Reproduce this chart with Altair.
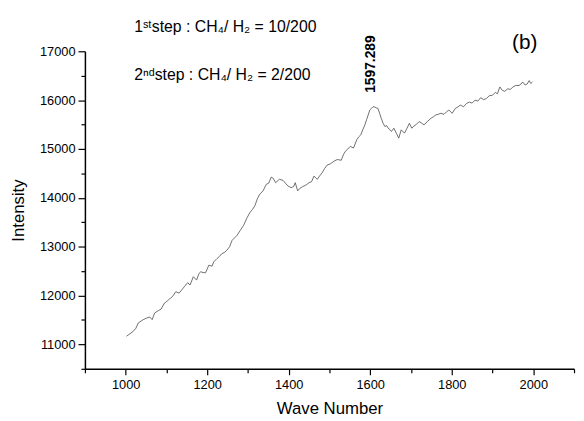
import altair as alt
import pandas as pd

wave = [1002, 1010, 1019, 1025, 1031, 1043, 1052, 1059, 1065, 1071,
        1080, 1087, 1095, 1101, 1107, 1115, 1123, 1131, 1138, 1144,
        1152, 1158, 1166, 1174, 1180, 1184, 1190, 1196, 1204, 1212,
        1216, 1224, 1230, 1236, 1242, 1248, 1255, 1261, 1267, 1273,
        1281, 1289, 1297, 1305, 1311, 1317, 1323, 1329, 1337, 1345,
        1351, 1357, 1362, 1368, 1377, 1386, 1392, 1398, 1406, 1412,
        1416, 1422, 1428, 1434, 1442, 1450, 1456, 1462, 1470, 1476,
        1482, 1488, 1494, 1503, 1511, 1519, 1529, 1534, 1539, 1545,
        1551, 1559, 1567, 1572, 1577, 1582, 1587, 1591, 1595, 1599,
        1603, 1607, 1611, 1615, 1619, 1623, 1627, 1632, 1636, 1640,
        1644, 1648, 1652, 1658, 1664, 1670, 1676, 1684, 1690, 1696,
        1702, 1707, 1712, 1720, 1726, 1732, 1740, 1749, 1755, 1761,
        1767, 1773, 1781, 1787, 1793, 1801, 1809, 1815, 1821, 1829,
        1836, 1843, 1850, 1857, 1864, 1871, 1878, 1885, 1892, 1900,
        1907, 1912, 1918, 1924, 1930, 1937, 1944, 1950, 1957, 1965,
        1970, 1974, 1980, 1985, 1990, 1994, 1998]

intensity = [11168, 11215, 11270, 11330, 11440, 11506, 11540, 11561, 11506, 11642,
             11690, 11723, 11845, 11880, 11926, 11980, 12080, 12048, 12120, 12182,
             12263, 12216, 12385, 12317, 12453, 12486, 12470, 12466, 12621, 12601,
             12689, 12757, 12800, 12858, 12880, 12925, 13000, 13128, 13180, 13230,
             13331, 13432, 13580, 13702, 13760, 13838, 13980, 14075, 14142, 14277,
             14300, 14425, 14400, 14310, 14379, 14358, 14300, 14243, 14209, 14230,
             14310, 14142, 14200, 14229, 14260, 14310, 14330, 14445, 14379, 14450,
             14513, 14600, 14668, 14700, 14750, 14784, 14770, 14880, 14953, 15000,
             15054, 15020, 15190, 15250, 15291, 15400, 15494, 15600, 15697, 15798,
             15831, 15865, 15860, 15840, 15831, 15730, 15628, 15520, 15459, 15480,
             15425, 15400, 15358, 15425, 15324, 15222, 15392, 15324, 15420, 15526,
             15425, 15470, 15494, 15561, 15530, 15494, 15560, 15628, 15660, 15697,
             15710, 15730, 15710, 15760, 15798, 15730, 15831, 15860, 15899, 15865,
             15930, 15960, 15940, 16000, 15980, 16050, 16010, 16033, 16090, 16100,
             16160, 16130, 16270, 16200, 16180, 16230, 16220, 16270, 16300, 16300,
             16330, 16372, 16310, 16330, 16400, 16340, 16372]

x_ticks = list(range(900, 2101, 100))
y_ticks = list(range(10500, 17001, 500))

line1 = "1ˢᵗstep : CH₄/ H₂ = 10/200"
line2 = "2ⁿᵈstep : CH₄/ H₂ = 2/200"
peak_label = "1597.289"
panel_label = "(b)"

FONT = "Liberation Sans"

df = pd.DataFrame({"wave": wave, "intensity": intensity})

line = alt.Chart(df).mark_line(color="#4a4a4a", strokeWidth=0.8).encode(
    x=alt.X("wave:Q",
            scale=alt.Scale(domain=[900, 2100], nice=False, zero=False),
            axis=alt.Axis(values=x_ticks, format="d",
                          labelExpr="datum.value % 200 == 0 ? datum.label : ''",
                          title="Wave Number", titleFontSize=17,
                          titleFontWeight="normal", titlePadding=9,
                          tickSize={"condition": {"test": "datum.value % 200 == 0", "value": 6}, "value": 4},
                          labelPadding=4, labelFontSize=13)),
    y=alt.Y("intensity:Q",
            scale=alt.Scale(domain=[10500, 17000], nice=False, zero=False),
            axis=alt.Axis(values=y_ticks, format="d",
                          labelExpr="datum.value % 1000 == 0 ? datum.label : ''",
                          title="Intensity", titleFontSize=17,
                          titleFontWeight="normal", titlePadding=12,
                          tickSize={"condition": {"test": "datum.value % 1000 == 0", "value": 7}, "value": 4},
                          labelPadding=3, labelFontSize=13)),
)

one = alt.Data(values=[{}])

t1 = alt.Chart(one).mark_text(text=line1, align="left", baseline="middle",
                              fontSize=16, font=FONT, color="black").encode(
    x=alt.value(50), y=alt.value(-25))
t2 = alt.Chart(one).mark_text(text=line2, align="left", baseline="middle",
                              fontSize=16, font=FONT, color="black").encode(
    x=alt.value(50), y=alt.value(24))
t3 = alt.Chart(one).mark_text(text=peak_label, align="center", baseline="middle",
                              angle=270, fontSize=14, fontWeight="bold",
                              font=FONT, color="black").encode(
    x=alt.value(290), y=alt.value(13))
t4 = alt.Chart(one).mark_text(text=panel_label, align="center", baseline="middle",
                              fontSize=21, font=FONT, color="black").encode(
    x=alt.value(446), y=alt.value(-8))

chart = alt.layer(line, t1, t2, t3, t4).properties(
    width=496, height=322,
    autosize=alt.AutoSizeParams(type="none"),
    padding={"left": 78, "top": 41, "right": 2, "bottom": 48},
).configure_view(stroke=None).configure_axis(
    grid=False, domainColor="black", domainWidth=1.5, tickColor="black",
    tickWidth=1.2, labelFont=FONT, titleFont=FONT, labelColor="black",
    titleColor="black",
)

chart.save("out.html", embed_options={"renderer": "svg", "actions": False})
